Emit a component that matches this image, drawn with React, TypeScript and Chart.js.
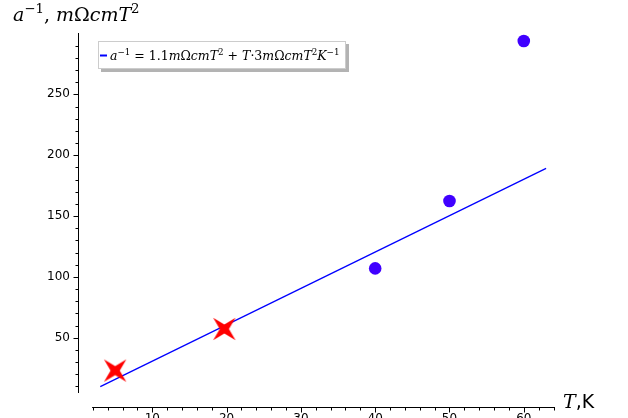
import React, { useEffect, useRef } from "react";
import { Chart, registerables } from "chart.js";

Chart.register(...registerables);

// ---- data ----
const fitT = [3, 63];
const fitA = [9.9, 189.2];
const dotT = [40, 50, 60];
const dotA = [107, 162.3, 293.8];
const crossT = [5, 19.7];
const crossA = [23, 57.2];
const xTickLabels = [10, 20, 30, 40, 50, 60];
const yTickLabels = [50, 100, 150, 200, 250];
const xRange = [0, 64.2];
const yRange = [-6.9, 300.4];
const xSpine = [1.9, 64.2];
const ySpine = [4.6, 300.4];
const xMinorStep = 2;
const yMinorStep = 10;

type Seg = { t: string; it?: boolean; sup?: boolean; sans?: boolean };

const yTitle: Seg[] = [
  { t: "a", it: true },
  { t: "−1", sup: true },
  { t: ", " },
  { t: "m", it: true },
  { t: "Ω" },
  { t: "cmT", it: true },
  { t: "2", sup: true },
];
const xTitle: Seg[] = [{ t: "T", it: true }, { t: ",K", sans: true }];
const legendText: Seg[] = [
  { t: "a", it: true },
  { t: "−1", sup: true },
  { t: " = " },
  { t: "1.1" },
  { t: "m", it: true },
  { t: "Ω" },
  { t: "cmT", it: true },
  { t: "2", sup: true },
  { t: " + " },
  { t: "T", it: true },
  { t: "·" },
  { t: "3" },
  { t: "m", it: true },
  { t: "Ω" },
  { t: "cmT", it: true },
  { t: "2", sup: true },
  { t: "K", it: true },
  { t: "−1", sup: true },
];

function drawMath(ctx: CanvasRenderingContext2D, segs: Seg[], x: number, base: number, size: number) {
  let cx = x;
  ctx.textBaseline = "alphabetic";
  ctx.textAlign = "left";
  for (const s of segs) {
    const fs = s.sup ? size * 0.7 : size;
    const fam = s.sans ? '"DejaVu Sans"' : '"DejaVu Serif"';
    ctx.font = `${s.it ? "italic " : ""}${fs}px ${fam}`;
    const dy = s.sup ? -size * 0.42 : 0;
    ctx.fillText(s.t, cx, base + dy);
    cx += ctx.measureText(s.t).width;
  }
  return cx - x;
}

function makeStar(): HTMLCanvasElement {
  const c = document.createElement("canvas");
  c.width = 26;
  c.height = 26;
  const g = c.getContext("2d")!;
  const cx = 13, cy = 13, R = 11.2, r = 4.6;
  g.fillStyle = "#ff0000";
  g.beginPath();
  g.moveTo(cx - R, cy - R);
  g.lineTo(cx, cy - r);
  g.lineTo(cx + R, cy - R);
  g.lineTo(cx + r, cy);
  g.lineTo(cx + R, cy + R);
  g.lineTo(cx, cy + r);
  g.lineTo(cx - R, cy + R);
  g.lineTo(cx - r, cy);
  g.closePath();
  g.fill();
  return c;
}

const decor = {
  id: "decor",
  afterDraw(chart: any) {
    const { ctx, scales } = chart;
    const xs = scales.x, ys = scales.y;
    ctx.save();
    ctx.strokeStyle = "#000";
    ctx.fillStyle = "#000";
    ctx.lineWidth = 1;
    // y spine
    const sx = Math.round(chart.chartArea.left) + 0.5;
    ctx.beginPath();
    ctx.moveTo(sx, ys.getPixelForValue(ySpine[0]));
    ctx.lineTo(sx, ys.getPixelForValue(ySpine[1]));
    ctx.stroke();
    for (let v = yMinorStep; v < ySpine[1] - 1; v += yMinorStep) {
      if (v < ySpine[0]) continue;
      const major = v % 50 === 0;
      const py = Math.round(ys.getPixelForValue(v)) + 0.5;
      ctx.beginPath();
      ctx.moveTo(sx, py);
      ctx.lineTo(sx - (major ? 5 : 3), py);
      ctx.stroke();
    }
    // x spine
    const sy = Math.round(chart.chartArea.bottom) + 0.5;
    ctx.beginPath();
    ctx.moveTo(xs.getPixelForValue(xSpine[0]), sy);
    ctx.lineTo(xs.getPixelForValue(xSpine[1]), sy);
    ctx.stroke();
    for (let v = xMinorStep; v <= xSpine[1]; v += xMinorStep) {
      const major = v % 10 === 0;
      const px = Math.round(xs.getPixelForValue(v)) + 0.5;
      ctx.beginPath();
      ctx.moveTo(px, sy);
      ctx.lineTo(px, sy + (major ? 5 : 3));
      ctx.stroke();
    }
    // titles
    ctx.fillStyle = "#000";
    drawMath(ctx, yTitle, 13, 21, 19);
    drawMath(ctx, xTitle, 563, 408, 19);
    // legend
    const bx = 98, by = 41, bw = 248, bh = 28;
    ctx.fillStyle = "#b3b3b3";
    ctx.fillRect(bx + 3, by + 3, bw, bh);
    ctx.fillStyle = "#fff";
    ctx.fillRect(bx, by, bw, bh);
    ctx.strokeStyle = "#cccccc";
    ctx.strokeRect(bx + 0.5, by + 0.5, bw - 1, bh - 1);
    ctx.strokeStyle = "#0000ff";
    ctx.lineWidth = 2;
    ctx.beginPath();
    ctx.moveTo(100, 55.5);
    ctx.lineTo(107, 55.5);
    ctx.stroke();
    ctx.fillStyle = "#000";
    drawMath(ctx, legendText, 110, 60, 12.5);
    ctx.restore();
  },
};

export default function App() {
  const ref = useRef<HTMLCanvasElement>(null);
  useEffect(() => {
    if (!ref.current) return;
    const star = makeStar();
    const chart = new Chart(ref.current, {
      type: "scatter",
      data: {
        datasets: [
          {
            label: "cross",
            data: crossT.map((t, i) => ({ x: t, y: crossA[i] })),
            pointStyle: star as any,
            pointRadius: 11,
            order: 0,
          },
          {
            label: "dots",
            data: dotT.map((t, i) => ({ x: t, y: dotA[i] })),
            backgroundColor: "#4000ff",
            borderColor: "#4000ff",
            pointRadius: 6.3,
            borderWidth: 0,
            order: 1,
          },
          {
            label: "fit",
            data: fitT.map((t, i) => ({ x: t, y: fitA[i] })),
            showLine: true,
            borderColor: "#0000ff",
            borderWidth: 1.3,
            pointRadius: 0,
            order: 2,
          },
        ],
      },
      options: {
        responsive: false,
        animation: false,
        events: [],
        layout: { padding: { top: 33, right: 73, left: 0, bottom: 0 } },
        plugins: { legend: { display: false }, tooltip: { enabled: false } },
        scales: {
          x: {
            type: "linear",
            min: xRange[0],
            max: xRange[1],
            border: { display: false },
            grid: { display: false, drawTicks: false },
            afterBuildTicks: (s: any) => {
              s.ticks = xTickLabels.map((v) => ({ value: v }));
            },
            afterFit: (s: any) => {
              s.height = 33;
            },
            ticks: { padding: 5, color: "#000", font: { family: "DejaVu Sans", size: 12 }, maxRotation: 0, autoSkip: false },
          },
          y: {
            type: "linear",
            min: yRange[0],
            max: yRange[1],
            border: { display: false },
            grid: { display: false, drawTicks: false },
            afterBuildTicks: (s: any) => {
              s.ticks = yTickLabels.map((v) => ({ value: v }));
            },
            afterFit: (s: any) => {
              s.width = 78;
            },
            ticks: { padding: 8, color: "#000", font: { family: "DejaVu Sans", size: 12 }, autoSkip: false },
          },
        },
      },
      plugins: [decor],
    });
    return () => chart.destroy();
  }, []);
  return (
    <div style={{ position: "fixed", left: 0, top: 0, width: 628, height: 418, overflow: "hidden", background: "#fff" }}>
      <canvas ref={ref} width={628} height={440} style={{ width: 628, height: 440, display: "block" }} />
    </div>
  );
}
